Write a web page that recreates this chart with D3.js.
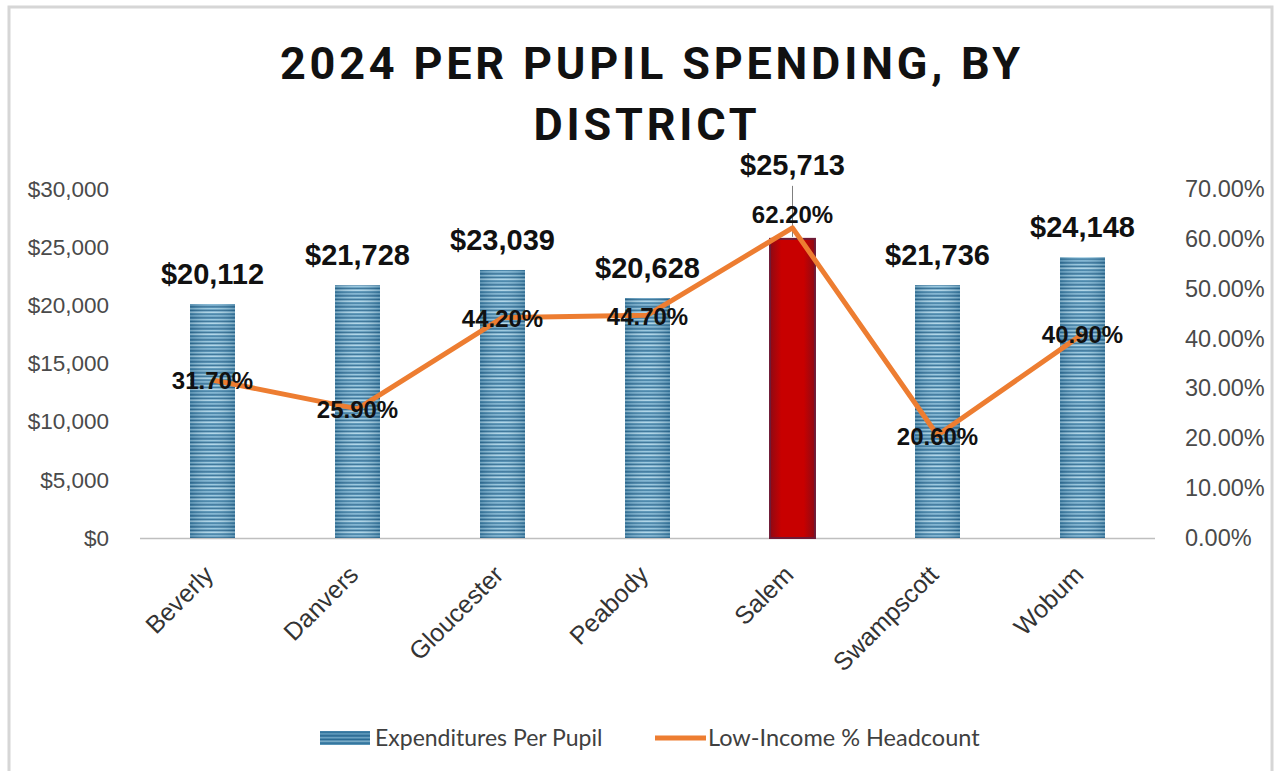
<!DOCTYPE html>
<html>
<head>
<meta charset="utf-8">
<script src="https://cdn.jsdelivr.net/npm/d3@7/dist/d3.min.js"></script>
<style>
  html, body { margin: 0; padding: 0; background: #fff; }
  svg { display: block; }
</style>
</head>
<body>
<svg id="chart" width="1279" height="771"></svg>
<script>
// Districts and their values
const districts = ["Beverly", "Danvers", "Gloucester", "Peabody", "Salem", "Swampscott", "Wobum"];
const spending = [20112, 21728, 23039, 20628, 25713, 21736, 24148];
const lowIncome = [31.7, 25.9, 44.2, 44.7, 62.2, 20.6, 40.9];
const leftTicks = [0, 5000, 10000, 15000, 20000, 25000, 30000];
const rightTicks = [0, 10, 20, 30, 40, 50, 60, 70];
const highlight = "Salem";

const svg = d3.select("#chart");
const m = { left: 140, right: 1155, top: 189, bottom: 538 };

// Outer frame
svg.append("rect")
  .attr("x", 9).attr("y", 7).attr("width", 1263).attr("height", 780)
  .attr("fill", "#fff").attr("stroke", "#d6d6d6").attr("stroke-width", 3);

const defs = svg.append("defs");
// Striped blue fill for the bars
const pat = defs.append("pattern")
  .attr("id", "stripes").attr("patternUnits", "userSpaceOnUse")
  .attr("width", 50).attr("height", 11);
pat.append("rect").attr("width", 50).attr("height", 11).attr("fill", "#4a8bb2");
[[0, 1.3, "#93c4dc"], [2, 1, "#2b6a91"], [3.5, 1.6, "#a9d2e5"], [5.8, 1, "#36789f"], [7.2, 1.3, "#82b8d5"], [9.3, 0.9, "#28658b"]]
  .forEach(([y, h, c]) => pat.append("rect").attr("y", y).attr("width", 50).attr("height", h).attr("fill", c));

const barGrad = defs.append("linearGradient").attr("id", "barShade").attr("x1", 0).attr("x2", 1);
barGrad.append("stop").attr("offset", "0%").attr("stop-color", "#1d4e6e").attr("stop-opacity", 0.3);
barGrad.append("stop").attr("offset", "50%").attr("stop-color", "#ffffff").attr("stop-opacity", 0.1);
barGrad.append("stop").attr("offset", "100%").attr("stop-color", "#1d4e6e").attr("stop-opacity", 0.3);

const redGrad = defs.append("linearGradient").attr("id", "redShade").attr("x1", 0).attr("x2", 1);
redGrad.append("stop").attr("offset", "0%").attr("stop-color", "#8e0a14");
redGrad.append("stop").attr("offset", "25%").attr("stop-color", "#c80000");
redGrad.append("stop").attr("offset", "75%").attr("stop-color", "#c80000");
redGrad.append("stop").attr("offset", "100%").attr("stop-color", "#8e0a14");

// Scales
const x = d3.scaleBand().domain(districts).range([m.left, m.right]).paddingInner(0.69).paddingOuter(0.345);
const y = d3.scaleLinear().domain([0, 30000]).range([m.bottom, m.top]);
const y2 = d3.scaleLinear().domain([0, 70]).range([m.bottom, m.top]);

// Title
const title = svg.append("text")
  .attr("text-anchor", "middle")
  .attr("font-family", "Roboto, 'Liberation Sans', Arial, sans-serif")
  .attr("font-weight", 700).attr("font-size", 45)
  .attr("letter-spacing", 3.8).attr("fill", "#111");
title.append("tspan").attr("x", 652).attr("y", 79).text("2024 PER PUPIL SPENDING, BY");
title.append("tspan").attr("x", 647).attr("y", 140).text("DISTRICT");

const axisFont = "'Liberation Sans', Arial, sans-serif";

// Left axis
const leftAxis = svg.append("g")
  .attr("transform", `translate(${m.left - 28},0)`)
  .call(d3.axisLeft(y).tickValues(leftTicks).tickSize(0).tickFormat(d => "$" + d3.format(",")(d)));
leftAxis.select(".domain").remove();
leftAxis.selectAll("text")
  .attr("font-family", axisFont).attr("font-size", 22.5).attr("fill", "#4a4a4a");

// Right axis
const rightAxis = svg.append("g")
  .attr("transform", `translate(${m.right + 27},0)`)
  .call(d3.axisRight(y2).tickValues(rightTicks).tickSize(0).tickFormat(d => d.toFixed(2) + "%"));
rightAxis.select(".domain").remove();
rightAxis.selectAll("text")
  .attr("font-family", axisFont).attr("font-size", 23.5).attr("fill", "#4a4a4a");

// Category axis baseline
svg.append("line")
  .attr("x1", m.left).attr("x2", m.right).attr("y1", m.bottom + 0.5).attr("y2", m.bottom + 0.5)
  .attr("stroke", "#bfbfbf").attr("stroke-width", 1.5);

// Category labels, rotated
svg.append("g").selectAll("text").data(districts).join("text")
  .attr("transform", d => `translate(${x(d) + x.bandwidth() / 2 - 10},${m.bottom + 26}) rotate(-45)`)
  .attr("text-anchor", "end").attr("dy", "0.7em")
  .attr("font-family", axisFont).attr("font-size", 25)
  .attr("fill", "#333").text(d => d);

// Bars
const bars = svg.append("g");
districts.forEach((d, i) => {
  const bx = x(d), bw = x.bandwidth(), by = y(spending[i]), bh = y(0) - y(spending[i]);
  if (d === highlight) {
    bars.append("rect").attr("x", bx).attr("y", by).attr("width", bw).attr("height", bh)
      .attr("fill", "url(#redShade)").attr("stroke", "#6e1a36").attr("stroke-width", 2);
  } else {
    bars.append("rect").attr("x", bx).attr("y", by).attr("width", bw).attr("height", bh)
      .attr("fill", "url(#stripes)");
    bars.append("rect").attr("x", bx).attr("y", by).attr("width", bw).attr("height", bh)
      .attr("fill", "url(#barShade)");
  }
});

// Bar value labels
const labelFont = "'Liberation Sans', Arial, sans-serif";
districts.forEach((d, i) => {
  const cx = x(d) + x.bandwidth() / 2;
  const lift = d === highlight ? 64 : 20;
  const ly = y(spending[i]) - lift;
  if (d === highlight) {
    svg.append("line").attr("x1", cx).attr("x2", cx)
      .attr("y1", ly + 11).attr("y2", y(spending[i]) - 2)
      .attr("stroke", "#7f7f7f").attr("stroke-width", 1);
  }
  svg.append("text").attr("x", cx).attr("y", ly)
    .attr("text-anchor", "middle").attr("font-family", labelFont)
    .attr("font-weight", 700).attr("font-size", 29).attr("fill", "#111")
    .text("$" + d3.format(",")(spending[i]));
});

// Low-income line
const line = d3.line()
  .x((v, i) => x(districts[i]) + x.bandwidth() / 2)
  .y(v => y2(v));
svg.append("path").datum(lowIncome)
  .attr("d", line).attr("fill", "none")
  .attr("stroke", "#ed7d31").attr("stroke-width", 5).attr("stroke-linejoin", "round");

// Line value labels
lowIncome.forEach((v, i) => {
  const cx = x(districts[i]) + x.bandwidth() / 2;
  const off = districts[i] === highlight ? -13 : 1;
  svg.append("text").attr("x", cx).attr("y", y2(v) + off).attr("dy", "0.35em")
    .attr("text-anchor", "middle").attr("font-family", labelFont)
    .attr("font-weight", 700).attr("font-size", 24).attr("fill", "#111")
    .text(v.toFixed(2) + "%");
});

// Legend
const lg = svg.append("g");
lg.append("rect").attr("x", 320).attr("y", 731).attr("width", 50).attr("height", 14).attr("fill", "url(#stripes)");
lg.append("rect").attr("x", 320).attr("y", 731).attr("width", 50).attr("height", 14).attr("fill", "#2f6f96").attr("opacity", 0.4);
lg.append("text").attr("x", 375).attr("y", 746)
  .attr("font-family", "Lato, 'Open Sans', sans-serif").attr("font-size", 23).attr("fill", "#404040")
  .text("Expenditures Per Pupil");
lg.append("line").attr("x1", 655).attr("x2", 706).attr("y1", 738).attr("y2", 738)
  .attr("stroke", "#ed7d31").attr("stroke-width", 5);
lg.append("text").attr("x", 708).attr("y", 746)
  .attr("font-family", "Lato, 'Open Sans', sans-serif").attr("font-size", 23.5).attr("fill", "#404040")
  .text("Low-Income % Headcount");
</script>
</body>
</html>
